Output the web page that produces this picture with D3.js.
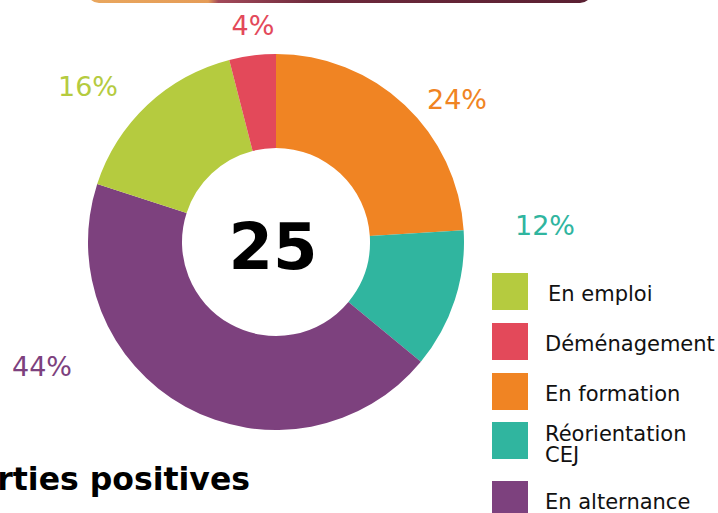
<!DOCTYPE html>
<html>
<head>
<meta charset="utf-8">
<script src="https://cdn.jsdelivr.net/npm/d3@7"></script>
<style>
  body { margin: 0; background: #fff; }
  svg { display: block; font-family: "DejaVu Sans", Verdana, sans-serif; }
</style>
</head>
<body>
<div class="board"></div>
<script>
// globals
var width = 718;
var height = 513;

// data (clockwise from 12 o'clock)
var categories = ['En formation', 'Réorientation CEJ', 'En alternance', 'En emploi', 'Déménagement'];
var counts = [6, 3, 11, 4, 1];
var percentLabels = ['24%', '12%', '44%', '16%', '4%'];
var total = 25;

// legend order
var legendItems = ['En emploi', 'Déménagement', 'En formation', 'Réorientation CEJ', 'En alternance'];

var colors = {
  'En formation': '#f08423',
  'Réorientation CEJ': '#30b59f',
  'En alternance': '#7d417e',
  'En emploi': '#b5cb3f',
  'Déménagement': '#e3495a'
};

var cx = 276, cy = 242, outerR = 188, innerR = 94;

var svg = d3.select('.board').append('svg')
  .attr('width', width)
  .attr('height', height);

// cut-off banner at the top
var grad = svg.append('defs').append('linearGradient')
  .attr('id', 'banner').attr('x1', '0%').attr('x2', '100%');
grad.append('stop').attr('offset', '0%').attr('stop-color', '#e9a75e');
grad.append('stop').attr('offset', '24%').attr('stop-color', '#e59c57');
grad.append('stop').attr('offset', '26%').attr('stop-color', '#a34a5a');
grad.append('stop').attr('offset', '45%').attr('stop-color', '#6e2a3c');
grad.append('stop').attr('offset', '100%').attr('stop-color', '#5a2032');
svg.append('rect')
  .attr('x', 87).attr('y', -30)
  .attr('width', 505).attr('height', 33)
  .attr('rx', 12)
  .attr('fill', 'url(#banner)');

var pie = d3.pie().sort(null).value(function(d) { return d; });
var arcs = pie(counts);

var arc = d3.arc().innerRadius(innerR).outerRadius(outerR);

var g = svg.append('g').attr('transform', 'translate(' + cx + ',' + cy + ')');

g.selectAll('path.slice').data(arcs)
  .enter().append('path')
  .attr('class', 'slice')
  .attr('d', arc)
  .attr('fill', function(d, i) { return colors[categories[i]]; });

// percentage labels, hand placed around the ring (offsets from centre)
var labelPos = [[181, -143], [269, -17], [-234, 124], [-188, -156], [-23, -217]];
g.selectAll('text.pct').data(arcs)
  .enter().append('text')
  .attr('class', 'pct')
  .attr('x', function(d, i) { return labelPos[i][0]; })
  .attr('y', function(d, i) { return labelPos[i][1]; })
  .attr('text-anchor', 'middle')
  .attr('dominant-baseline', 'central')
  .attr('font-size', 27)
  .attr('fill', function(d, i) { return colors[categories[i]]; })
  .text(function(d, i) { return percentLabels[i]; });

// total in the hole
g.append('text')
  .attr('x', -3).attr('y', 27)
  .attr('text-anchor', 'middle')
  .attr('font-size', 64)
  .attr('font-weight', 'bold')
  .attr('fill', '#000')
  .text(total);

// legend
var legendY = [273, 323, 373, 422, 481];
var legend = svg.selectAll('g.legend').data(legendItems)
  .enter().append('g')
  .attr('class', 'legend')
  .attr('transform', function(d, i) { return 'translate(492,' + legendY[i] + ')'; });

legend.append('rect')
  .attr('width', 36).attr('height', 37)
  .attr('fill', function(d) { return colors[d]; });

legend.append('text')
  .attr('y', function(d) { return d === 'Réorientation CEJ' ? 19 : 28; })
  .attr('font-size', 21)
  .attr('fill', '#111')
  .each(function(d, i) {
    var parts = d === 'Réorientation CEJ' ? ['Réorientation', 'CEJ'] : [d];
    var t = d3.select(this);
    var lx = i === 0 ? 56 : 53;
    parts.forEach(function(p, j) {
      t.append('tspan').attr('x', lx).attr('dy', j === 0 ? 0 : 21).text(p);
    });
  });

// cut-off title
svg.append('text')
  .attr('x', 250).attr('y', 490)
  .attr('text-anchor', 'end')
  .attr('font-size', 31.5)
  .attr('font-weight', 'bold')
  .attr('fill', '#000')
  .text('Sorties positives');
</script>
</body>
</html>
